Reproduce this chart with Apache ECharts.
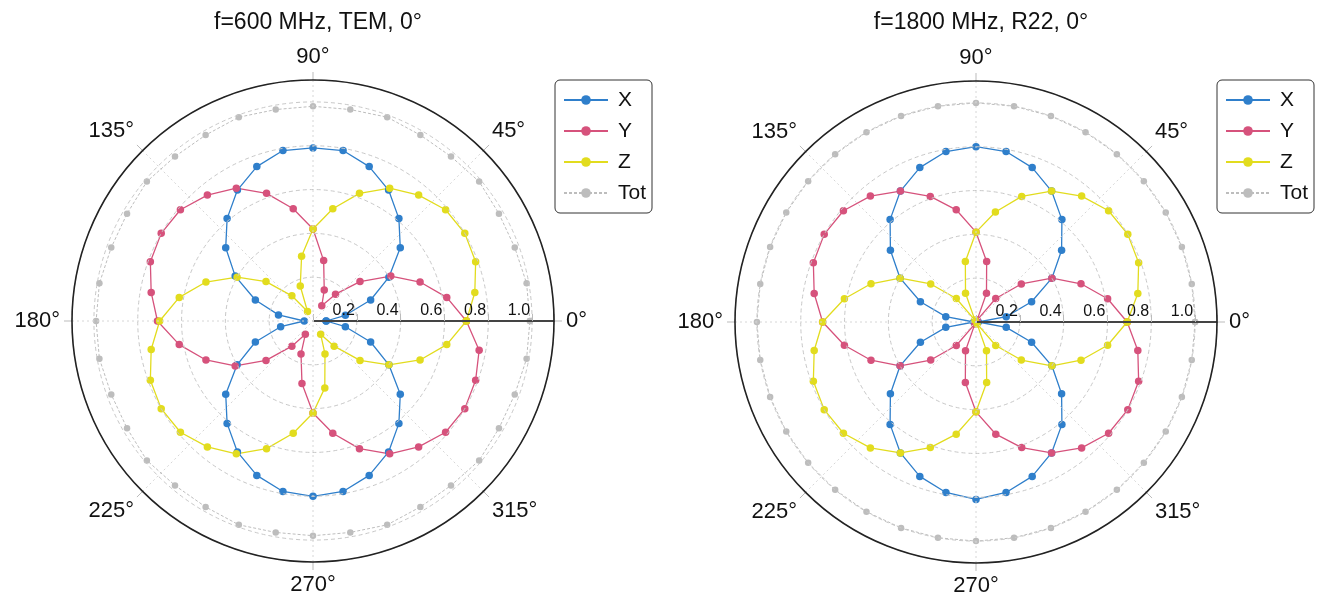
<!DOCTYPE html>
<html><head><meta charset="utf-8">
<script src="https://cdn.jsdelivr.net/npm/echarts@6/dist/echarts.min.js"></script>
<style>html,body{margin:0;padding:0;background:#fff}#c{width:1324px;height:601px}</style>
</head><body><div id="c"></div>
<script>
const angles = [0,10,20,30,40,50,60,70,80,90,100,110,120,130,140,150,160,170,180,190,200,210,220,230,240,250,260,270,280,290,300,310,320,330,340,350];
const seriesNames = ['X','Y','Z','Tot'];
const radiusTickLabels = ['0.2','0.4','0.6','0.8','1.0'];
const angleTickLabels = ['0°','45°','90°','135°','180°','225°','270°','315°'];
const titles = ['f=600 MHz, TEM, 0°','f=1800 MHz, R22, 0°'];

// left chart: f=600 MHz, TEM
const xLeft   = [0.06,0.15,0.28,0.40,0.52,0.61,0.69,0.75,0.79,0.79,0.79,0.75,0.69,0.61,0.52,0.41,0.28,0.16,0.04,0.15,0.28,0.40,0.52,0.61,0.69,0.75,0.79,0.80,0.79,0.75,0.69,0.61,0.52,0.40,0.28,0.15];
const yLeft   = [0.70,0.62,0.52,0.41,0.28,0.16,0.08,0.15,0.28,0.42,0.52,0.62,0.70,0.75,0.79,0.80,0.79,0.75,0.71,0.62,0.52,0.41,0.28,0.15,0.07,0.16,0.29,0.42,0.52,0.62,0.70,0.75,0.79,0.80,0.79,0.77];
const zLeft   = [0.70,0.75,0.79,0.80,0.79,0.75,0.70,0.62,0.52,0.42,0.30,0.17,0.05,0.15,0.28,0.40,0.52,0.62,0.70,0.75,0.79,0.80,0.79,0.75,0.70,0.62,0.52,0.42,0.31,0.16,0.07,0.15,0.28,0.40,0.52,0.62];
const totLeft = [0.99,0.99,0.98,0.98,0.99,0.98,0.98,0.99,0.98,0.98,0.98,0.99,0.98,0.98,0.99,0.98,0.98,0.99,0.99,0.99,0.98,0.98,0.99,0.98,0.98,0.99,0.98,0.98,0.98,0.99,0.98,0.98,0.99,0.98,0.98,0.99];

// right chart: f=1800 MHz, R22
const xRight   = [0.01,0.14,0.27,0.40,0.51,0.61,0.69,0.75,0.79,0.80,0.79,0.75,0.69,0.61,0.51,0.40,0.27,0.14,0.01,0.14,0.27,0.40,0.51,0.61,0.69,0.75,0.79,0.81,0.79,0.75,0.69,0.61,0.51,0.40,0.27,0.14];
const yRight   = [0.69,0.61,0.51,0.40,0.27,0.14,0.01,0.14,0.28,0.41,0.52,0.61,0.69,0.75,0.79,0.80,0.79,0.75,0.70,0.61,0.51,0.40,0.27,0.14,0.01,0.14,0.28,0.41,0.52,0.61,0.69,0.75,0.79,0.80,0.79,0.75];
const zRight   = [0.69,0.75,0.79,0.80,0.79,0.75,0.69,0.61,0.51,0.41,0.28,0.14,0.01,0.14,0.27,0.40,0.51,0.61,0.70,0.75,0.79,0.80,0.79,0.75,0.69,0.61,0.52,0.41,0.28,0.14,0.01,0.14,0.27,0.40,0.51,0.61];
const totRight = [1.00,1.00,1.00,1.00,1.00,1.00,1.00,1.00,1.00,1.00,1.00,1.00,1.00,1.00,1.00,1.00,1.00,1.00,1.00,1.00,1.00,1.00,1.00,1.00,1.00,1.00,1.00,1.00,1.00,1.00,1.00,1.00,1.00,1.00,1.00,1.00];

const colors = ['#2f7fcb','#d6527c','#e2dc1e','#bdbdbd'];
const FONT = 'Liberation Sans, Arial, Helvetica, sans-serif';

function build(vals) {
  const d = vals.map((v, i) => [v, angles[i]]);
  d.push([vals[0], 360]);
  return d;
}

const centers = [[313, 321], [976, 322]];
const legendLeft = [555, 1217];
const chartData = [[xLeft, yLeft, zLeft, totLeft], [xRight, yRight, zRight, totRight]];

const polar = centers.map(c => ({ center: c, radius: 241 }));

const spoke = '#d6d6d6';
const angleAxis = centers.map((c, i) => ({
  polarIndex: i, type: 'value', min: 0, max: 360, interval: 45,
  startAngle: 0, clockwise: false, z: 12,
  axisLine: { show: true, lineStyle: { color: '#222', width: 1.6 } },
  axisTick: { show: true, length: 8, lineStyle: { color: '#bbb', width: 1 } },
  axisLabel: {
    show: true, margin: 12, fontSize: 22, color: '#111', fontFamily: FONT,
    formatter: v => (v >= 360 ? '' : angleTickLabels[Math.round(v / 45)])
  },
  splitLine: { show: true, lineStyle: { color: ['rgba(0,0,0,0)', spoke, spoke, spoke, spoke, spoke, spoke, spoke], type: [2, 3], width: 1 } }
}));

const radiusAxis = centers.map((c, i) => ({
  polarIndex: i, type: 'value', min: 0, max: 1.1, interval: 0.2,
  axisLine: { show: true, lineStyle: { color: '#444', width: 2 } },
  axisTick: { show: true, length: 7, lineStyle: { color: '#bbb', width: 1 } },
  axisLabel: {
    show: true, fontSize: 16, color: '#111', fontFamily: FONT, margin: 2,
    align: 'right', padding: [0, 2, 0, 0],
    formatter: v => {
      const s = v.toFixed(1);
      return radiusTickLabels.indexOf(s) >= 0 && Math.round(v * 10) % 2 === 0 && Math.abs(v * 10 - Math.round(v * 10)) < 1e-6 ? s : '';
    }
  },
  splitLine: { show: true, lineStyle: { color: '#c8c8c8', type: [4, 3], width: 1 } },
  z: 5
}));

const series = [];
chartData.forEach((set, pi) => {
  set.forEach((vals, si) => {
    series.push({
      name: seriesNames[si], type: 'line', coordinateSystem: 'polar', polarIndex: pi,
      data: build(vals), symbol: 'circle', symbolSize: si === 3 ? 6.5 : 7.5,
      showSymbol: true, animation: false,
      itemStyle: { color: colors[si] },
      lineStyle: { color: colors[si], width: si === 3 ? 1 : 1.3, type: si === 3 ? [3, 2] : 'solid' },
      z: 3
    });
  });
});

const legend = legendLeft.map(l => ({
  data: seriesNames, orient: 'vertical', left: l, top: 80,
  width: 100, backgroundColor: '#fff',
  borderColor: '#333', borderWidth: 1, borderRadius: 5,
  padding: [9, 6, 9, 8], itemGap: 9, itemWidth: 44, itemHeight: 12,
  textStyle: { fontSize: 21, color: '#111', fontFamily: FONT, lineHeight: 22, padding: [0, 0, 0, 5] },
  selectedMode: false
}));

const title = titles.map((t, i) => ({
  text: t, left: centers[i][0], top: 6, textAlign: 'center',
  textStyle: { fontSize: 23, fontWeight: 'normal', color: '#111', fontFamily: FONT }
}));

const chart = echarts.init(document.getElementById('c'));
chart.setOption({
  backgroundColor: '#fff', animation: false,
  title, legend, polar, angleAxis, radiusAxis, series
});
</script></body></html>
